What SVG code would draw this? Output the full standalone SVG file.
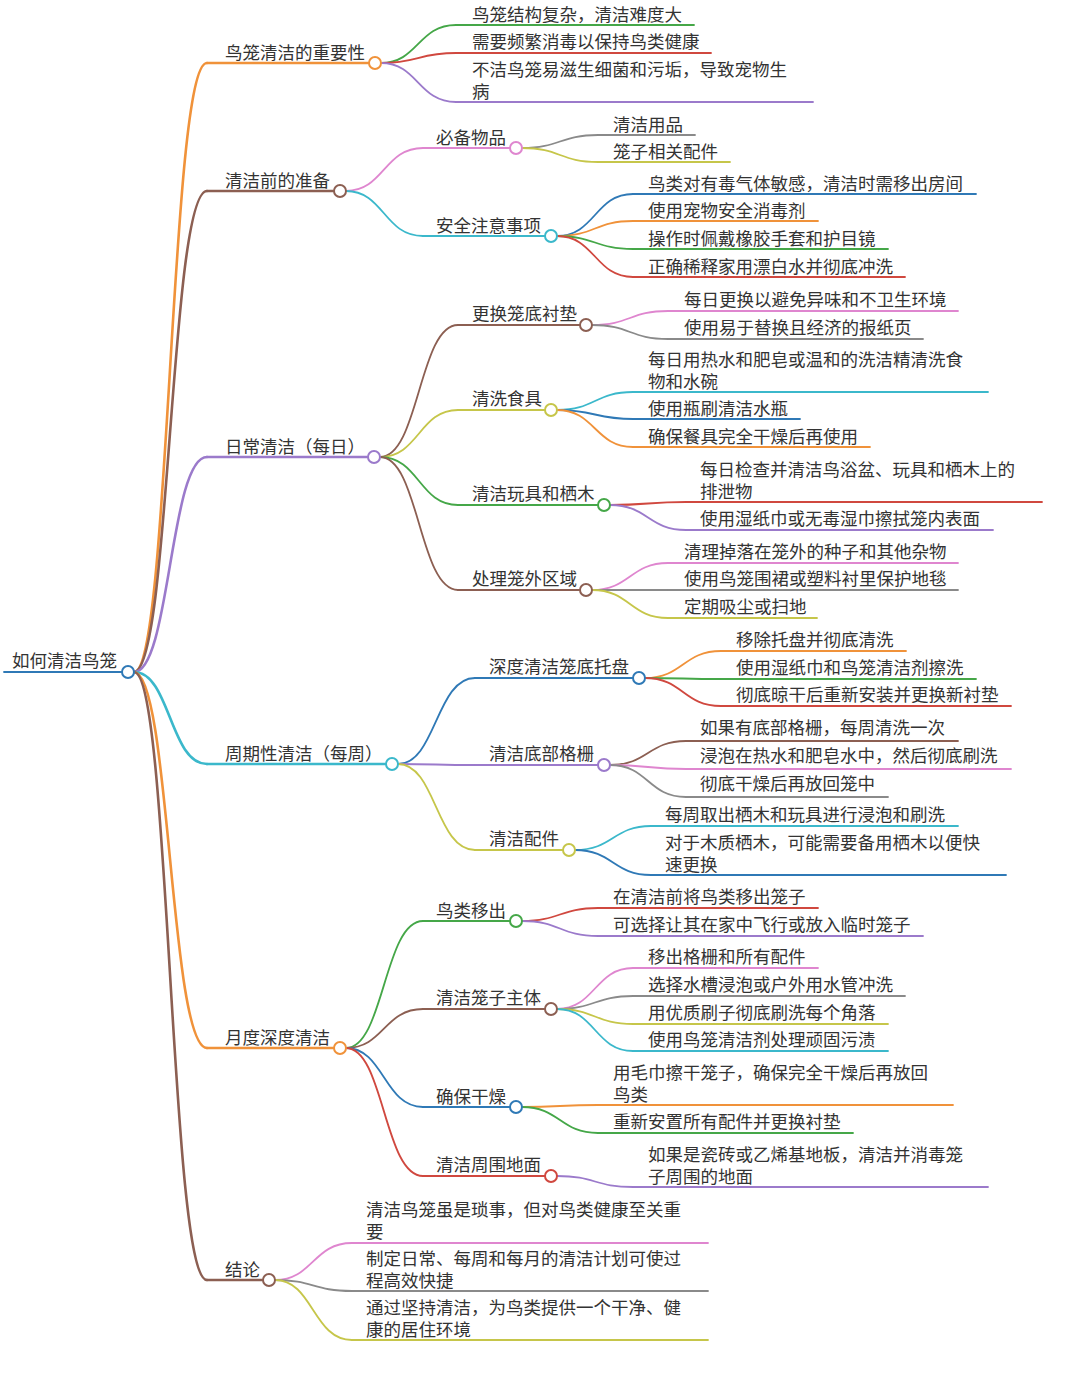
<svg xmlns="http://www.w3.org/2000/svg" width="1080" height="1391" viewBox="0 0 1080 1391">
<style>
.t{font-family:"Noto Sans CJK SC","Noto Sans",sans-serif;font-size:17.5px;fill:#333}
.l{fill:none;stroke-width:1.8;stroke-linecap:round}
.m{stroke-width:2.6}
.c{fill:#fff;stroke-width:2}
.or{stroke:#f0923a}.br{stroke:#8c5f52}.pu{stroke:#9b7acb}.cy{stroke:#3bb8cb}.gr{stroke:#45a748}.rd{stroke:#d0483f}.bl{stroke:#2f79b6}.pk{stroke:#df86cf}.gy{stroke:#8a8a8a}.yg{stroke:#c6c64a}
</style>
<rect width="1080" height="1391" fill="#fff"/>
<g id="connectors">
<path class="l m or" d="M134 672C170 672 170 63 207 63"/>
<path class="l m br" d="M134 672C170 672 170 191 207 191"/>
<path class="l m pu" d="M134 672C170 672 170 457 207 457"/>
<path class="l m cy" d="M134 672C170 672 170 764 207 764"/>
<path class="l m or" d="M134 672C170 672 170 1048 207 1048"/>
<path class="l m br" d="M134 672C170 672 170 1280 207 1280"/>
<path class="l gr" d="M381 63C418 63 418 25 456 25"/>
<path class="l rd" d="M381 63C418 63 418 53 456 53"/>
<path class="l pu" d="M381 63C418 63 418 102 456 102"/>
<path class="l pk" d="M346 191C384 191 384 148 423 148"/>
<path class="l cy" d="M346 191C384 191 384 236 423 236"/>
<path class="l gy" d="M522 148C560 148 560 135 598 135"/>
<path class="l yg" d="M522 148C560 148 560 162 598 162"/>
<path class="l bl" d="M557 236C595 236 595 194 633 194"/>
<path class="l or" d="M557 236C595 236 595 221 633 221"/>
<path class="l gr" d="M557 236C595 236 595 249 633 249"/>
<path class="l rd" d="M557 236C595 236 595 277 633 277"/>
<path class="l br" d="M380 457C419 457 419 325 458 325"/>
<path class="l yg" d="M380 457C419 457 419 410 458 410"/>
<path class="l gr" d="M380 457C419 457 419 505 458 505"/>
<path class="l br" d="M380 457C419 457 419 590 458 590"/>
<path class="l pk" d="M592 325C630 325 630 311 668 311"/>
<path class="l gy" d="M592 325C630 325 630 339 668 339"/>
<path class="l cy" d="M557 410C595 410 595 392 633 392"/>
<path class="l bl" d="M557 410C595 410 595 419 633 419"/>
<path class="l or" d="M557 410C595 410 595 447 633 447"/>
<path class="l rd" d="M610 505C648 505 648 502 686 502"/>
<path class="l pu" d="M610 505C648 505 648 530 686 530"/>
<path class="l pk" d="M592 590C630 590 630 563 668 563"/>
<path class="l gy" d="M592 590C630 590 630 590 668 590"/>
<path class="l yg" d="M592 590C630 590 630 618 668 618"/>
<path class="l bl" d="M398 764C436 764 436 678 475 678"/>
<path class="l pu" d="M398 764C436 764 436 765 475 765"/>
<path class="l yg" d="M398 764C436 764 436 850 475 850"/>
<path class="l or" d="M645 678C683 678 683 651 721 651"/>
<path class="l gr" d="M645 678C683 678 683 679 721 679"/>
<path class="l rd" d="M645 678C683 678 683 706 721 706"/>
<path class="l br" d="M610 765C648 765 648 741 686 741"/>
<path class="l pk" d="M610 765C648 765 648 769 686 769"/>
<path class="l gy" d="M610 765C648 765 648 797 686 797"/>
<path class="l cy" d="M575 850C613 850 613 826 651 826"/>
<path class="l bl" d="M575 850C613 850 613 875 651 875"/>
<path class="l gr" d="M346 1048C384 1048 384 921 423 921"/>
<path class="l br" d="M346 1048C384 1048 384 1009 423 1009"/>
<path class="l bl" d="M346 1048C384 1048 384 1107 423 1107"/>
<path class="l rd" d="M346 1048C384 1048 384 1176 423 1176"/>
<path class="l rd" d="M522 921C560 921 560 908 598 908"/>
<path class="l pu" d="M522 921C560 921 560 936 598 936"/>
<path class="l pk" d="M557 1009C595 1009 595 968 633 968"/>
<path class="l gy" d="M557 1009C595 1009 595 996 633 996"/>
<path class="l yg" d="M557 1009C595 1009 595 1024 633 1024"/>
<path class="l cy" d="M557 1009C595 1009 595 1051 633 1051"/>
<path class="l or" d="M522 1107C560 1107 560 1105 598 1105"/>
<path class="l gr" d="M522 1107C560 1107 560 1133 598 1133"/>
<path class="l pu" d="M557 1176C595 1176 595 1187 633 1187"/>
<path class="l pk" d="M275 1280C313 1280 313 1243 352 1243"/>
<path class="l gy" d="M275 1280C313 1280 313 1291 352 1291"/>
<path class="l yg" d="M275 1280C313 1280 313 1340 352 1340"/>
</g>
<g id="root"><path class="l bl" stroke-width="4" d="M4 672H122"/><text class="t" x="12" y="667">如何清洁鸟笼</text><circle class="c bl" cx="128" cy="672" r="6"/></g>
<g id="n1"><path class="l m or" d="M207 63H369"/><text class="t" x="225" y="59">鸟笼清洁的重要性</text><circle class="c or" cx="375" cy="63" r="6"/></g>
<g id="n1a"><path class="l gr" d="M456 25H694"/><text class="t" x="472" y="21">鸟笼结构复杂，清洁难度大</text></g>
<g id="n1b"><path class="l rd" d="M456 53H711"/><text class="t" x="472" y="48">需要频繁消毒以保持鸟类健康</text></g>
<g id="n1c"><path class="l pu" d="M456 102H813"/><text class="t" x="472" y="76">不洁鸟笼易滋生细菌和污垢，导致宠物生</text><text class="t" x="472" y="98">病</text></g>
<g id="n2"><path class="l m br" d="M207 191H334"/><text class="t" x="225" y="187">清洁前的准备</text><circle class="c br" cx="340" cy="191" r="6"/></g>
<g id="n2a"><path class="l pk" d="M423 148H510"/><text class="t" x="436" y="144">必备物品</text><circle class="c pk" cx="516" cy="148" r="6"/></g>
<g id="n2a1"><path class="l gy" d="M598 135H695"/><text class="t" x="613" y="131">清洁用品</text></g>
<g id="n2a2"><path class="l yg" d="M598 162H730"/><text class="t" x="613" y="158">笼子相关配件</text></g>
<g id="n2b"><path class="l cy" d="M423 236H545"/><text class="t" x="436" y="232">安全注意事项</text><circle class="c cy" cx="551" cy="236" r="6"/></g>
<g id="n2b1"><path class="l bl" d="M633 194H976"/><text class="t" x="648" y="190">鸟类对有毒气体敏感，清洁时需移出房间</text></g>
<g id="n2b2"><path class="l or" d="M633 221H818"/><text class="t" x="648" y="217">使用宠物安全消毒剂</text></g>
<g id="n2b3"><path class="l gr" d="M633 249H888"/><text class="t" x="648" y="245">操作时佩戴橡胶手套和护目镜</text></g>
<g id="n2b4"><path class="l rd" d="M633 277H905"/><text class="t" x="648" y="273">正确稀释家用漂白水并彻底冲洗</text></g>
<g id="n3"><path class="l m pu" d="M207 457H368"/><text class="t" x="225" y="453">日常清洁（每日）</text><circle class="c pu" cx="374" cy="457" r="6"/></g>
<g id="n3a"><path class="l br" d="M458 325H580"/><text class="t" x="472" y="320">更换笼底衬垫</text><circle class="c br" cx="586" cy="325" r="6"/></g>
<g id="n3a1"><path class="l pk" d="M668 311H958"/><text class="t" x="684" y="306">每日更换以避免异味和不卫生环境</text></g>
<g id="n3a2"><path class="l gy" d="M668 339H923"/><text class="t" x="684" y="334">使用易于替换且经济的报纸页</text></g>
<g id="n3b"><path class="l yg" d="M458 410H545"/><text class="t" x="472" y="405">清洗食具</text><circle class="c yg" cx="551" cy="410" r="6"/></g>
<g id="n3b1"><path class="l cy" d="M633 392H988"/><text class="t" x="648" y="366">每日用热水和肥皂或温和的洗洁精清洗食</text><text class="t" x="648" y="388">物和水碗</text></g>
<g id="n3b2"><path class="l bl" d="M633 419H800"/><text class="t" x="648" y="415">使用瓶刷清洁水瓶</text></g>
<g id="n3b3"><path class="l or" d="M633 447H870"/><text class="t" x="648" y="443">确保餐具完全干燥后再使用</text></g>
<g id="n3c"><path class="l gr" d="M458 505H598"/><text class="t" x="472" y="500">清洁玩具和栖木</text><circle class="c gr" cx="604" cy="505" r="6"/></g>
<g id="n3c1"><path class="l rd" d="M686 502H1042"/><text class="t" x="700" y="476">每日检查并清洁鸟浴盆、玩具和栖木上的</text><text class="t" x="700" y="498">排泄物</text></g>
<g id="n3c2"><path class="l pu" d="M686 530H993"/><text class="t" x="700" y="525">使用湿纸巾或无毒湿巾擦拭笼内表面</text></g>
<g id="n3d"><path class="l br" d="M458 590H580"/><text class="t" x="472" y="585">处理笼外区域</text><circle class="c br" cx="586" cy="590" r="6"/></g>
<g id="n3d1"><path class="l pk" d="M668 563H958"/><text class="t" x="684" y="558">清理掉落在笼外的种子和其他杂物</text></g>
<g id="n3d2"><path class="l gy" d="M668 590H958"/><text class="t" x="684" y="585">使用鸟笼围裙或塑料衬里保护地毯</text></g>
<g id="n3d3"><path class="l yg" d="M668 618H817"/><text class="t" x="684" y="613">定期吸尘或扫地</text></g>
<g id="n4"><path class="l m cy" d="M207 764H386"/><text class="t" x="225" y="760">周期性清洁（每周）</text><circle class="c cy" cx="392" cy="764" r="6"/></g>
<g id="n4a"><path class="l bl" d="M475 678H633"/><text class="t" x="489" y="673">深度清洁笼底托盘</text><circle class="c bl" cx="639" cy="678" r="6"/></g>
<g id="n4a1"><path class="l or" d="M721 651H906"/><text class="t" x="736" y="646">移除托盘并彻底清洗</text></g>
<g id="n4a2"><path class="l gr" d="M721 679H976"/><text class="t" x="736" y="674">使用湿纸巾和鸟笼清洁剂擦洗</text></g>
<g id="n4a3"><path class="l rd" d="M721 706H1011"/><text class="t" x="736" y="701">彻底晾干后重新安装并更换新衬垫</text></g>
<g id="n4b"><path class="l pu" d="M475 765H598"/><text class="t" x="489" y="760">清洁底部格栅</text><circle class="c pu" cx="604" cy="765" r="6"/></g>
<g id="n4b1"><path class="l br" d="M686 741H958"/><text class="t" x="700" y="734">如果有底部格栅，每周清洗一次</text></g>
<g id="n4b2"><path class="l pk" d="M686 769H1011"/><text class="t" x="700" y="762">浸泡在热水和肥皂水中，然后彻底刷洗</text></g>
<g id="n4b3"><path class="l gy" d="M686 797H888"/><text class="t" x="700" y="790">彻底干燥后再放回笼中</text></g>
<g id="n4c"><path class="l yg" d="M475 850H563"/><text class="t" x="489" y="845">清洁配件</text><circle class="c yg" cx="569" cy="850" r="6"/></g>
<g id="n4c1"><path class="l cy" d="M651 826H958"/><text class="t" x="665" y="821">每周取出栖木和玩具进行浸泡和刷洗</text></g>
<g id="n4c2"><path class="l bl" d="M651 875H1006"/><text class="t" x="665" y="849">对于木质栖木，可能需要备用栖木以便快</text><text class="t" x="665" y="871">速更换</text></g>
<g id="n5"><path class="l m or" d="M207 1048H334"/><text class="t" x="225" y="1044">月度深度清洁</text><circle class="c or" cx="340" cy="1048" r="6"/></g>
<g id="n5a"><path class="l gr" d="M423 921H510"/><text class="t" x="436" y="917">鸟类移出</text><circle class="c gr" cx="516" cy="921" r="6"/></g>
<g id="n5a1"><path class="l rd" d="M598 908H818"/><text class="t" x="613" y="903">在清洁前将鸟类移出笼子</text></g>
<g id="n5a2"><path class="l pu" d="M598 936H923"/><text class="t" x="613" y="931">可选择让其在家中飞行或放入临时笼子</text></g>
<g id="n5b"><path class="l br" d="M423 1009H545"/><text class="t" x="436" y="1004">清洁笼子主体</text><circle class="c br" cx="551" cy="1009" r="6"/></g>
<g id="n5b1"><path class="l pk" d="M633 968H818"/><text class="t" x="648" y="963">移出格栅和所有配件</text></g>
<g id="n5b2"><path class="l gy" d="M633 996H905"/><text class="t" x="648" y="991">选择水槽浸泡或户外用水管冲洗</text></g>
<g id="n5b3"><path class="l yg" d="M633 1024H888"/><text class="t" x="648" y="1019">用优质刷子彻底刷洗每个角落</text></g>
<g id="n5b4"><path class="l cy" d="M633 1051H888"/><text class="t" x="648" y="1046">使用鸟笼清洁剂处理顽固污渍</text></g>
<g id="n5c"><path class="l bl" d="M423 1107H510"/><text class="t" x="436" y="1103">确保干燥</text><circle class="c bl" cx="516" cy="1107" r="6"/></g>
<g id="n5c1"><path class="l or" d="M598 1105H953"/><text class="t" x="613" y="1079">用毛巾擦干笼子，确保完全干燥后再放回</text><text class="t" x="613" y="1101">鸟类</text></g>
<g id="n5c2"><path class="l gr" d="M598 1133H853"/><text class="t" x="613" y="1128">重新安置所有配件并更换衬垫</text></g>
<g id="n5d"><path class="l rd" d="M423 1176H545"/><text class="t" x="436" y="1171">清洁周围地面</text><circle class="c rd" cx="551" cy="1176" r="6"/></g>
<g id="n5d1"><path class="l pu" d="M633 1187H988"/><text class="t" x="648" y="1161">如果是瓷砖或乙烯基地板，清洁并消毒笼</text><text class="t" x="648" y="1183">子周围的地面</text></g>
<g id="n6"><path class="l m br" d="M207 1280H263"/><text class="t" x="225" y="1276">结论</text><circle class="c br" cx="269" cy="1280" r="6"/></g>
<g id="n6a"><path class="l pk" d="M352 1243H708"/><text class="t" x="366" y="1216">清洁鸟笼虽是琐事，但对鸟类健康至关重</text><text class="t" x="366" y="1238">要</text></g>
<g id="n6b"><path class="l gy" d="M352 1291H708"/><text class="t" x="366" y="1265">制定日常、每周和每月的清洁计划可使过</text><text class="t" x="366" y="1287">程高效快捷</text></g>
<g id="n6c"><path class="l yg" d="M352 1340H708"/><text class="t" x="366" y="1314">通过坚持清洁，为鸟类提供一个干净、健</text><text class="t" x="366" y="1336">康的居住环境</text></g>
</svg>
